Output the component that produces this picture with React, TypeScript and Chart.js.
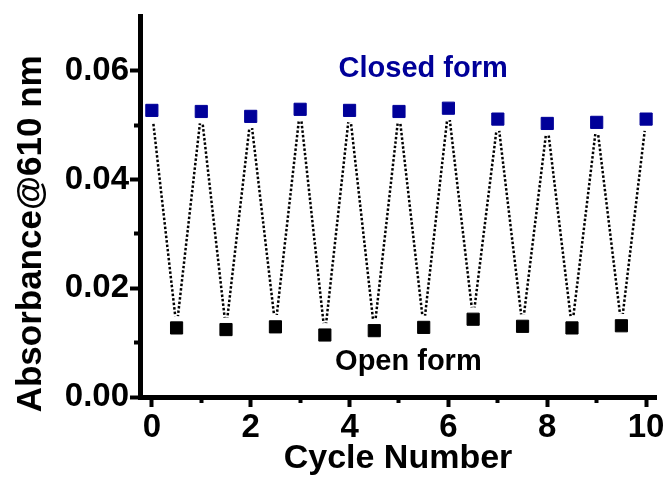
import React, { useEffect, useRef } from 'react';
import { Chart, registerables } from 'chart.js';

Chart.register(...registerables);

// ---- data ----
const closedX = [0, 1, 2, 3, 4, 5, 6, 7, 8, 9, 10];
const closedY = [0.0527, 0.0525, 0.0516, 0.0529, 0.0527, 0.0525, 0.0531, 0.0511, 0.0503, 0.0505, 0.0511];
const openX = [0.5, 1.5, 2.5, 3.5, 4.5, 5.5, 6.5, 7.5, 8.5, 9.5];
const openY = [0.0127, 0.0124, 0.0129, 0.0114, 0.0122, 0.0128, 0.0143, 0.0130, 0.0127, 0.0131];

const xMajorTicks = [0, 2, 4, 6, 8, 10];
const xMinorTicks = [1, 3, 5, 7, 9];
const yMajorTicks = [0, 0.02, 0.04, 0.06];
const yMinorTicks = [0.01, 0.03, 0.05];
const yTickLabels = ['0.00', '0.02', '0.04', '0.06'];

const xTitle = 'Cycle Number';
const yTitle = 'Absorbance@610 nm';

const labelTexts = ['Closed form', 'Open form'];
const labelX = [5.49, 5.19];
const labelY = [0.0589, 0.005];

const X_MIN = -0.24;
const X_MAX = 10.2;
const Y_MIN = 0;
const Y_MAX = 0.07;

const BLUE = '#000099';
const BLACK = '#000000';
const FONT = '"Liberation Sans", Arial, Helvetica, sans-serif';

// line sequence: closed, open, closed, ...
const seqPoints: { x: number; y: number }[] = [];
closedX.forEach((x, i) => {
  seqPoints.push({ x, y: closedY[i] });
  if (i < openX.length) seqPoints.push({ x: openX[i], y: openY[i] });
});

const textPlugin = {
  id: 'textPlugin',
  afterDraw(chart: any) {
    const ctx = chart.ctx;
    const xs = chart.scales.x;
    const ys = chart.scales.y;
    ctx.save();
    // annotations
    ctx.font = `bold 29px ${FONT}`;
    ctx.textAlign = 'center';
    ctx.textBaseline = 'alphabetic';
    labelTexts.forEach((t, i) => {
      ctx.fillStyle = i === 0 ? BLUE : BLACK;
      ctx.fillText(t, xs.getPixelForValue(labelX[i]), ys.getPixelForValue(labelY[i]));
    });
    // y axis title
    const cy = ys.getPixelForValue((yMajorTicks[0] + yMajorTicks[yMajorTicks.length - 1]) / 2);
    ctx.translate(chart.chartArea.left - 99, cy);
    ctx.rotate(-Math.PI / 2);
    ctx.font = `bold 35px ${FONT}`;
    ctx.fillStyle = BLACK;
    ctx.textAlign = 'center';
    ctx.textBaseline = 'alphabetic';
    ctx.fillText(yTitle, 0, 0);
    ctx.restore();
  },
};

export default function App() {
  const ref = useRef<HTMLCanvasElement>(null);

  useEffect(() => {
    if (!ref.current) return;
    const chart = new Chart(ref.current, {
      type: 'scatter',
      data: {
        datasets: [
          {
            label: 'Closed form',
            data: closedX.map((x, i) => ({ x, y: closedY[i] })),
            pointStyle: 'rect',
            pointRadius: 8.6,
            pointBackgroundColor: BLUE,
            pointBorderColor: BLUE,
            pointBorderWidth: 1,
            showLine: false,
            order: 1,
          },
          {
            label: 'Open form',
            data: openX.map((x, i) => ({ x, y: openY[i] })),
            pointStyle: 'rect',
            pointRadius: 8.6,
            pointBackgroundColor: BLACK,
            pointBorderColor: BLACK,
            pointBorderWidth: 1,
            showLine: false,
            order: 1,
          },
          {
            label: 'cycle',
            data: seqPoints,
            showLine: true,
            borderColor: BLACK,
            borderWidth: 2.5,
            borderDash: [2.5, 2],
            pointRadius: 12,
            pointStyle: 'circle',
            pointBackgroundColor: '#ffffff',
            pointBorderColor: '#ffffff',
            pointBorderWidth: 0,
            clip: { left: -3, top: 0, right: 0, bottom: -3 },
            order: 2,
          },
        ],
      },
      options: {
        responsive: false,
        animation: false,
        devicePixelRatio: 1,
        events: [],
        layout: { padding: { left: 0, top: 16.3, right: 14, bottom: 0 } },
        plugins: { legend: { display: false }, tooltip: { enabled: false } },
        scales: {
          xMinor: {
            type: 'linear',
            position: 'bottom',
            weight: 0,
            min: X_MIN,
            max: X_MAX,
            afterBuildTicks: (a: any) => { a.ticks = xMinorTicks.map((v) => ({ value: v })); },
            afterFit: (a: any) => { a.height = 0; a.paddingLeft = 0; a.paddingRight = 0; },
            ticks: { display: false },
            grid: { drawOnChartArea: false, drawTicks: true, tickLength: 6, tickWidth: 4, tickColor: BLACK },
            border: { display: false },
          },
          yMinor: {
            type: 'linear',
            position: 'left',
            weight: 0,
            min: Y_MIN,
            max: Y_MAX,
            afterBuildTicks: (a: any) => { a.ticks = yMinorTicks.map((v) => ({ value: v })); },
            afterFit: (a: any) => { a.width = 0; a.paddingTop = 0; a.paddingBottom = 0; },
            ticks: { display: false },
            grid: { drawOnChartArea: false, drawTicks: true, tickLength: 6, tickWidth: 4, tickColor: BLACK },
            border: { display: false },
          },
          x: {
            type: 'linear',
            position: 'bottom',
            weight: 1,
            min: X_MIN,
            max: X_MAX,
            afterBuildTicks: (a: any) => { a.ticks = xMajorTicks.map((v) => ({ value: v })); },
            afterFit: (a: any) => { a.height = 90; a.paddingLeft = 0; a.paddingRight = 0; },
            ticks: {
              color: BLACK,
              padding: 1,
              maxRotation: 0,
              autoSkip: false,
              font: { family: FONT, size: 33, weight: 'bold' },
              callback: (v: any) => String(v),
            },
            grid: { drawOnChartArea: false, drawTicks: true, tickLength: 10, tickWidth: 4, tickColor: BLACK },
            border: { display: true, width: 5, color: BLACK },
            title: {
              display: true,
              text: xTitle,
              color: BLACK,
              font: { family: FONT, size: 34, weight: 'bold' },
              padding: { top: 0, bottom: 8 },
            },
          },
          y: {
            type: 'linear',
            position: 'left',
            weight: 1,
            min: Y_MIN,
            max: Y_MAX,
            afterBuildTicks: (a: any) => { a.ticks = yMajorTicks.map((v) => ({ value: v })); },
            afterFit: (a: any) => { a.width = 140; a.paddingTop = 0; a.paddingBottom = 0; },
            ticks: {
              color: BLACK,
              padding: 1,
              autoSkip: false,
              font: { family: FONT, size: 33, weight: 'bold' },
              callback: (v: any) => {
                const i = yMajorTicks.findIndex((t) => Math.abs(t - v) < 1e-9);
                return i >= 0 ? yTickLabels[i] : '';
              },
            },
            grid: { drawOnChartArea: false, drawTicks: true, tickLength: 10, tickWidth: 4, tickColor: BLACK },
            border: { display: true, width: 5, color: BLACK },
          },
        },
      },
      plugins: [textPlugin],
    } as any);
    return () => chart.destroy();
  }, []);

  return (
    <div style={{ position: 'fixed', left: 0, top: 0, width: 670, height: 487, background: '#fff' }}>
      <canvas ref={ref} width={670} height={487} style={{ width: 670, height: 487 }} />
    </div>
  );
}
